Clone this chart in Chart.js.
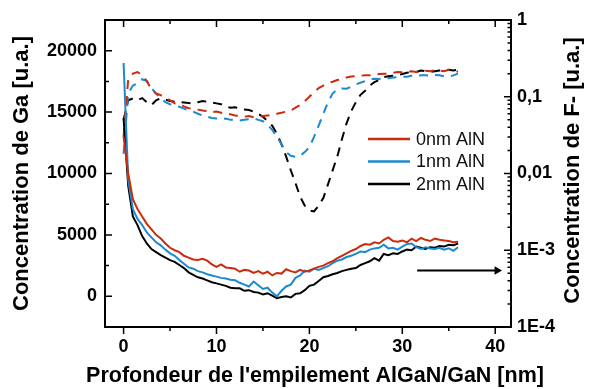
<!DOCTYPE html>
<html>
<head>
<meta charset="utf-8">
<script src="https://cdn.jsdelivr.net/npm/chart.js@4.4.1/dist/chart.umd.min.js"></script>
<style>
  html, body { margin: 0; padding: 0; background: #fff; }
  #wrap { width: 593px; height: 389px; position: relative; }
</style>
</head>
<body>
<div id="wrap"><canvas id="c"></canvas></div>
<script>
// depth (nm)
const depth = [
  0, 0.5, 1, 1.5, 2, 2.5, 3, 3.5, 4, 4.5,
  5, 5.5, 6, 6.5, 7, 7.5, 8, 8.5, 9, 9.5,
  10, 10.5, 11, 11.5, 12, 12.5, 13, 13.5, 14, 14.5,
  15, 15.5, 16, 16.5, 17, 17.5, 18, 18.5, 19, 19.5,
  20, 20.5, 21, 21.5, 22, 22.5, 23, 23.5, 24, 24.5,
  25, 25.5, 26, 26.5, 27, 27.5, 28, 28.5, 29, 29.5,
  30, 30.5, 31, 31.5, 32, 32.5, 33, 33.5, 34, 34.5,
  35, 35.5, 36
];

// Ga concentration, solid lines (left axis)
const ga0 = [
  13000, 10000, 7900, 7100, 6500, 5900, 5450, 5000, 4700, 4300,
  3950, 3750, 3600, 3300, 3150, 3000, 2950, 3050, 2900, 2600,
  2400, 2600, 2350, 2300, 2250, 2000, 2150, 2100, 1900, 2050,
  1850, 2000, 1700, 1900, 1850, 2200, 2050, 1950, 2150, 2000,
  2100, 2250, 2400, 2500, 2700, 2850, 3100, 3300, 3500, 3700,
  3850, 4100, 4250, 4200, 4400, 4300, 4600, 4800, 4500, 4450,
  4550, 4400, 4700, 4500, 4750, 4600, 4500, 4700, 4600, 4550,
  4500, 4400, 4450
];
const ga1 = [
  19000, 9500, 7100, 6300, 5800, 5200, 4800, 4400, 4150, 3800,
  3500, 3300, 2950, 2650, 2350, 2250, 2050, 1950, 1800, 1700,
  1600, 1500, 1450, 1350, 1300, 1100, 950, 800, 1200, 900,
  600, 700, 300, 0, 450, 800, 950, 1500, 1700, 2100,
  2000, 2250, 2150, 2300, 2450, 2700, 2900, 3000, 3200, 3300,
  3450, 3650, 3600, 3800, 3900, 3950, 4200, 3900, 3950, 3800,
  4050, 4250, 4300, 4000, 3850, 4000, 3900, 3850, 3950, 3800,
  3900, 3700, 4000
];
const ga2 = [
  14500, 9000, 6500, 5800, 4900, 4300, 3850, 3600, 3350, 3150,
  2950, 2800, 2550, 2300, 1950, 1750, 1550, 1450, 1300, 1150,
  1050, 950, 850, 700, 650, 650, 450, 500, 350, 300,
  150, 250, 50, -150, -50, 0, -100, 200, 250, 500,
  850, 950, 1250, 1550, 1650, 1800, 1900, 2050, 2150, 2250,
  2300, 2550, 2700, 2850, 3100, 2900, 3450, 3350, 3500, 3450,
  3650, 3800, 3750, 4050, 3950, 3850, 4000, 3950, 4100, 4050,
  4200, 4150, 4300
];

// F- concentration, dashed lines (right log axis)
const f0 = [
  0.03, 0.17, 0.2, 0.21, 0.19, 0.16, 0.125, 0.11, 0.105, 0.095,
  0.09, 0.082, 0.08, 0.075, 0.071, 0.07, 0.068, 0.066, 0.065, 0.063,
  0.064, 0.062, 0.06, 0.059, 0.057, 0.056, 0.055, 0.056, 0.054, 0.055,
  0.056, 0.057, 0.058, 0.06, 0.062, 0.064, 0.066, 0.072, 0.078, 0.088,
  0.1, 0.115, 0.13, 0.14, 0.15, 0.157, 0.165, 0.17, 0.178, 0.183,
  0.185, 0.188, 0.19, 0.19, 0.195, 0.198, 0.2, 0.2, 0.205, 0.21,
  0.208, 0.212, 0.215, 0.21, 0.212, 0.218, 0.215, 0.222, 0.22, 0.215,
  0.225, 0.218, 0.212
];
const f1 = [
  0.018, 0.11, 0.14, 0.15, 0.17, 0.16, 0.13, 0.11, 0.095, 0.085,
  0.08, 0.077, 0.074, 0.07, 0.067, 0.064, 0.06, 0.057, 0.055, 0.053,
  0.052, 0.051, 0.052, 0.05, 0.05, 0.049, 0.05, 0.051, 0.052, 0.05,
  0.048, 0.043, 0.037, 0.03, 0.024, 0.019, 0.017, 0.0165, 0.017, 0.019,
  0.022, 0.03, 0.042, 0.06, 0.085, 0.11, 0.125, 0.128, 0.127, 0.135,
  0.145, 0.152, 0.16, 0.17, 0.172, 0.17, 0.175, 0.174, 0.178, 0.18,
  0.183, 0.182, 0.188, 0.185, 0.19, 0.19, 0.188, 0.192, 0.19, 0.185,
  0.183, 0.19, 0.2
];
const f2 = [
  0.05, 0.09, 0.095, 0.09, 0.096, 0.085, 0.078, 0.09, 0.096, 0.092,
  0.088, 0.086, 0.085, 0.084, 0.083, 0.082, 0.085, 0.088, 0.086, 0.084,
  0.082, 0.08, 0.075, 0.072, 0.073, 0.07, 0.068, 0.067, 0.064, 0.06,
  0.055, 0.048, 0.042, 0.033, 0.024, 0.0166, 0.011, 0.0075, 0.005, 0.0038,
  0.0033, 0.0032, 0.0038, 0.0048, 0.0072, 0.011, 0.0166, 0.028, 0.045, 0.065,
  0.085, 0.106, 0.12, 0.14, 0.155, 0.165, 0.18, 0.185, 0.188, 0.19,
  0.198, 0.205, 0.212, 0.21, 0.22, 0.215, 0.21, 0.215, 0.22, 0.222,
  0.225, 0.22, 0.225
];

const labels = ["0nm AlN", "1nm AlN", "2nm AlN"];

// arrow pointing at the right axis
const arrowX = [31.6, 40.2];
const arrowY = [2100, 2100];

// ticks
const xTicks = [0, 10, 20, 30, 40];
const xMinor = [5, 15, 25, 35];
const gaTicks = [0, 5000, 10000, 15000, 20000];
const gaMinor = [-2500, 2500, 7500, 12500, 17500, 22500];
const fTicks = [1e-4, 1e-3, 1e-2, 1e-1, 1];
const fTickText = ["1E-4", "1E-3", "0,01", "0,1", "1"];

const RED = "#CC2B0C", BLUE = "#1B8AD0", BLACK = "#000000";
const FONT = "'Liberation Sans', Arial, sans-serif";

const pts = (ys) => depth.map((x, i) => ({ x, y: ys[i] }));

function solid(label, ys, color) {
  return { label, data: pts(ys), yAxisID: "y", borderColor: color, borderWidth: 2,
           pointRadius: 0, tension: 0, fill: false };
}
function dashed(ys, color) {
  return { label: "", data: pts(ys), yAxisID: "y2", borderColor: color, borderWidth: 2,
           borderDash: [9, 7], pointRadius: 0, tension: 0, fill: false };
}

const frame = {
  id: "frame",
  afterDatasetsDraw(chart) {
    const { ctx, chartArea: a, scales } = chart;
    const x = scales.x, y = scales.y, y2 = scales.y2;
    ctx.save();
    ctx.strokeStyle = "#000";
    ctx.lineWidth = 2;
    ctx.strokeRect(a.left, a.top, a.right - a.left, a.bottom - a.top);

    ctx.lineWidth = 1.5;
    ctx.beginPath();
    const tick = (x1, y1, x2, y2_) => { ctx.moveTo(x1, y1); ctx.lineTo(x2, y2_); };
    xTicks.forEach(v => { const p = x.getPixelForValue(v); tick(p, a.bottom, p, a.bottom + 7); tick(p, a.top, p, a.top + 7); });
    xMinor.forEach(v => { const p = x.getPixelForValue(v); tick(p, a.bottom, p, a.bottom + 4); tick(p, a.top, p, a.top + 4); });
    gaTicks.forEach(v => { const p = y.getPixelForValue(v); tick(a.left, p, a.left + 7, p); });
    gaMinor.forEach(v => { const p = y.getPixelForValue(v); tick(a.left, p, a.left + 4, p); });
    fTicks.forEach(v => { const p = y2.getPixelForValue(v); tick(a.right, p, a.right - 7, p); });
    fTicks.slice(0, -1).forEach(d => {
      for (let m = 2; m <= 9; m++) { const p = y2.getPixelForValue(d * m); tick(a.right, p, a.right - 3.5, p); }
    });
    ctx.stroke();

    // axis titles drawn by hand: right one reads upwards, bottom one sits off-centre
    ctx.fillStyle = "#000";
    ctx.textAlign = "center";
    ctx.textBaseline = "middle";
    ctx.font = "bold 21.5px " + FONT;
    ctx.fillText("Profondeur de l'empilement AlGaN/GaN [nm]", 315, 376);
    ctx.font = "bold 22px " + FONT;
    ctx.translate(573, (a.top + a.bottom) / 2 - 3);
    ctx.rotate(-Math.PI / 2);
    ctx.fillText("Concentration de F- [u.a.]", 0, 0);
    ctx.restore();

    // legend
    ctx.save();
    ctx.font = "18px " + FONT;
    ctx.textAlign = "left";
    ctx.textBaseline = "middle";
    [0, 1, 2].forEach(i => {
      const ds = chart.data.datasets[i];
      const ly = 139 + i * 22.5;
      ctx.strokeStyle = ds.borderColor;
      ctx.lineWidth = 2.5;
      ctx.beginPath(); ctx.moveTo(368, ly); ctx.lineTo(410, ly); ctx.stroke();
      ctx.fillStyle = "#111";
      ctx.fillText(ds.label, 416, ly + 1);
    });
    ctx.restore();
  }
};

const tickFont = { family: FONT, size: 18, weight: "bold" };
const noGrid = { display: false, drawTicks: false };

new Chart(document.getElementById("c"), {
  type: "line",
  data: {
    datasets: [
      solid(labels[0], ga0, RED),
      solid(labels[1], ga1, BLUE),
      solid(labels[2], ga2, BLACK),
      dashed(f0, RED),
      dashed(f1, BLUE),
      dashed(f2, BLACK),
      { label: "", data: arrowX.map((x, i) => ({ x, y: arrowY[i] })), yAxisID: "y",
        borderColor: BLACK, borderWidth: 2, backgroundColor: BLACK,
        pointRadius: [0, 5], pointStyle: "triangle", pointRotation: 90,
        pointBorderWidth: 0, pointBackgroundColor: BLACK }
    ]
  },
  options: {
    responsive: true,
    maintainAspectRatio: false,
    animation: false,
    layout: { padding: { top: 20, left: 0, right: 0, bottom: 0 } },
    plugins: { legend: { display: false }, tooltip: { enabled: false } },
    scales: {
      x: {
        type: "linear", min: -2, max: 41.7,
        afterBuildTicks: s => { s.ticks = xTicks.map(value => ({ value })); },
        afterFit: s => { s.height = 62; },
        grid: noGrid, border: { display: false },
        ticks: { color: "#000", font: tickFont, padding: 9 }
      },
      y: {
        type: "linear", position: "left", min: -2500, max: 22500,
        afterBuildTicks: s => { s.ticks = gaTicks.map(value => ({ value })); },
        afterFit: s => { s.width = 105; },
        grid: noGrid, border: { display: false },
        ticks: { color: "#000", font: tickFont, padding: 8, callback: v => String(v) },
        title: { display: true, text: "Concentration de Ga [u.a.]", color: "#000",
                 font: { family: FONT, size: 22, weight: "bold" }, padding: { top: 9, bottom: 0 } }
      },
      y2: {
        type: "logarithmic", position: "right", min: 1e-4, max: 1,
        afterBuildTicks: s => { s.ticks = fTicks.map(value => ({ value })); },
        afterFit: s => { s.width = 82; },
        grid: noGrid, border: { display: false },
        ticks: { color: "#000", font: tickFont, padding: 6,
                 callback: (v) => { const i = fTicks.findIndex(t => Math.abs(Math.log10(t) - Math.log10(v)) < 1e-6); return i >= 0 ? fTickText[i] : ""; } }
      }
    }
  },
  plugins: [frame]
});
</script>
</body>
</html>
